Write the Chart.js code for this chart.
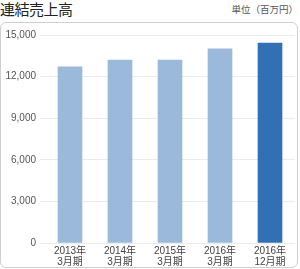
<!DOCTYPE html>
<html>
<head>
<meta charset="utf-8">
<script src="https://cdn.jsdelivr.net/npm/chart.js@4"></script>
<style>
  html, body { margin: 0; padding: 0; background: #fff; width: 300px; height: 269px; overflow: hidden; }
  body { position: relative; font-family: "Liberation Sans", "Noto Sans CJK JP", sans-serif; }
  #title { position: absolute; left: 0; top: 0; font-size: 15px; line-height: 18px; color: #222; font-family: "Noto Sans CJK JP", sans-serif; letter-spacing: -0.5px; }
  #unit { position: absolute; right: 2px; top: 3px; font-size: 9.5px; line-height: 12px; color: #555; font-family: "Noto Sans CJK JP", sans-serif; }
  #box { position: absolute; left: 0; top: 22px; width: 296px; height: 244px; border: 1px solid #cfcfcf; border-radius: 6px; box-sizing: content-box; }
  #wrap { position: absolute; left: 0; top: 22px; width: 297px; height: 245px; }
</style>
</head>
<body>
<div id="title">連結売上高</div>
<div id="unit">単位（百万円）</div>
<div id="box"></div>
<div id="wrap"><canvas id="c" width="297" height="245"></canvas></div>
<script>
const categories = [["2013年","3月期"],["2014年","3月期"],["2015年","3月期"],["2016年","3月期"],["2016年","12月期"]];
const salesValues = [12700, 13200, 13200, 14000, 14420];
const barColors = ["#9bb9db", "#9bb9db", "#9bb9db", "#9bb9db", "#3170b3"];
const yTicks = [0, 3000, 6000, 9000, 12000, 15000];

new Chart(document.getElementById('c'), {
  type: 'bar',
  data: {
    labels: categories,
    datasets: [{
      data: salesValues,
      backgroundColor: barColors,
      borderWidth: 0,
      barThickness: 24
    }]
  },
  options: {
    responsive: false,
    animation: false,
    devicePixelRatio: 1,
    layout: { padding: { top: 13, right: 2, left: 0, bottom: 0 } },
    plugins: { legend: { display: false }, tooltip: { enabled: false }, title: { display: false } },
    scales: {
      x: {
        grid: { display: false, drawTicks: false },
        border: { display: false },
        ticks: {
          color: '#444',
          padding: 3,
          font: { family: '"Liberation Sans", "Noto Sans CJK JP", sans-serif', size: 10, lineHeight: 1.05 },
          maxRotation: 0, autoSkip: false
        },
        afterFit: s => { s.height = 24; }
      },
      y: {
        min: 0, max: 15000,
        afterBuildTicks: s => { s.ticks = yTicks.map(v => ({ value: v })); },
        grid: { color: '#ebebeb', lineWidth: 1, tickLength: 5, drawTicks: true },
        border: { display: false },
        ticks: {
          color: '#555',
          padding: 4,
          font: { family: '"Liberation Sans", sans-serif', size: 10 },
          callback: v => v.toLocaleString('en-US')
        },
        afterFit: s => { s.width = 45; }
      }
    }
  }
});
</script>
</body>
</html>
